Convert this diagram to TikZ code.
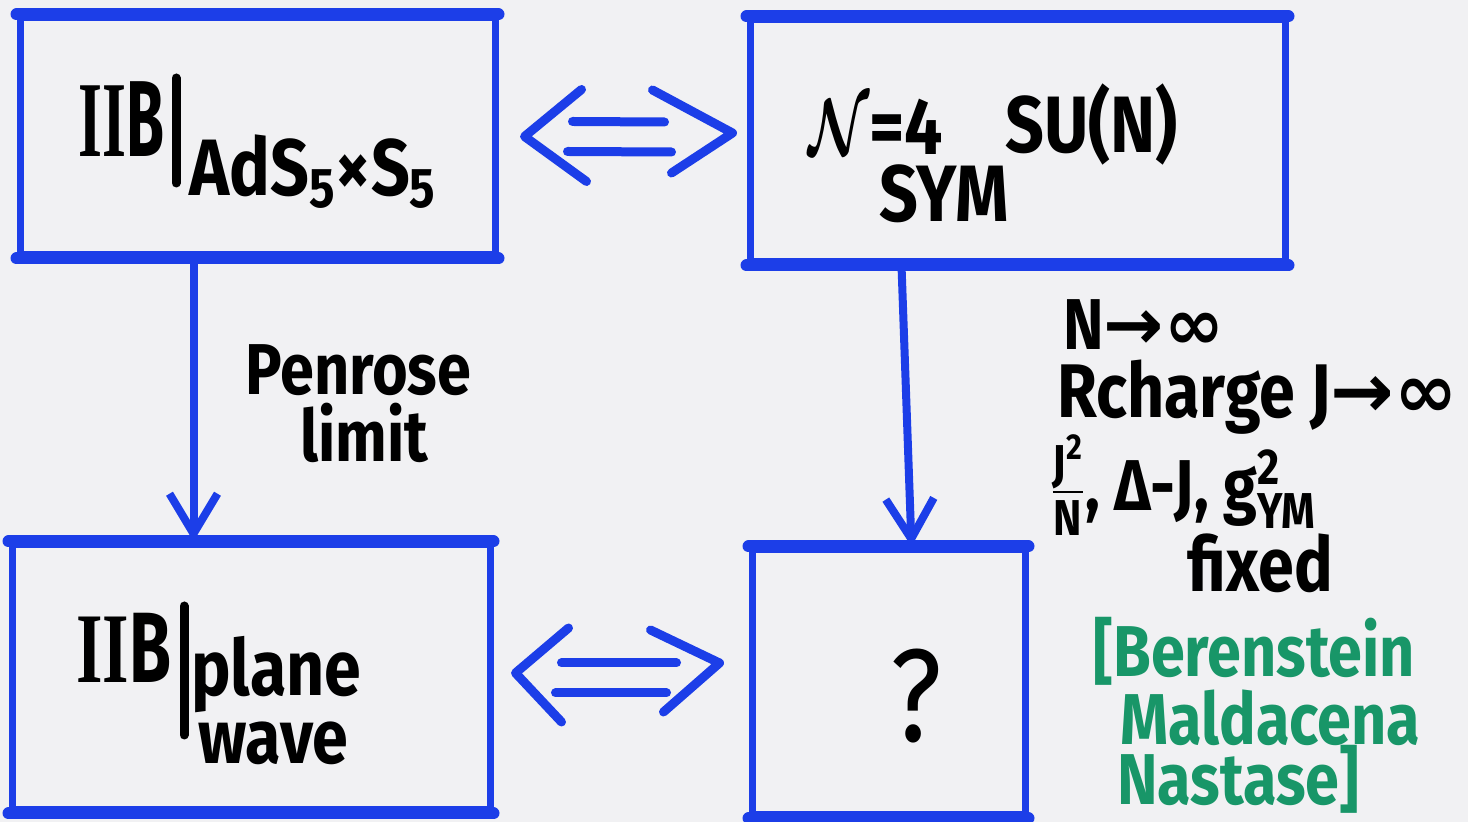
\RequirePackage{fix-cm}
\documentclass[tikz,border=0pt]{standalone}
\usepackage{amsmath}
\usepackage{fontspec}
\setmainfont{Fira Sans}[FakeStretch=0.85]
\newfontfamily\serifII{Liberation Serif}[FakeStretch=0.85]
\newfontfamily\symf{DejaVu Sans}
\usetikzlibrary{arrows.meta}
\definecolor{mkblue}{RGB}{28,62,232}
\definecolor{mkgreen}{RGB}{24,150,104}
\definecolor{paper}{RGB}{241,241,243}
\newcommand\fsz[1]{\fontsize{#1}{#1}\selectfont}
\tikzset{
  box/.style={draw=mkblue, line width=3.5pt, rectangle, inner sep=0pt},
  boxedge/.style={mkblue, line width=6pt, line cap=round},
  conn/.style={mkblue, line width=4.5pt, line cap=round, line join=round},
  vconn/.style={mkblue, line width=4pt, line cap=round, line join=round,
    -{Straight Barb[length=20pt, width=24pt, line width=4pt]}},
  hw/.style={font=\bfseries, text=black, inner sep=0pt},
  gw/.style={font=\bfseries, text=mkgreen, inner sep=0pt, text depth=0pt},
}
\begin{document}
\begin{tikzpicture}[x=0.5pt,y=-0.5pt]
\fill[paper] (0,0) rectangle (1468,822);
\useasboundingbox (0,0) rectangle (1468,822);

% boxes
\node[box, minimum width=237.5pt, minimum height=118.5pt] (A) at (257.5,136.5) {};
\node[box, minimum width=267.5pt, minimum height=121pt] (B) at (1017.5,141) {};
\node[box, minimum width=239pt, minimum height=132.5pt] (C) at (251,677.5) {};
\node[box, minimum width=136.5pt, minimum height=132.5pt] (D) at (888.5,682.5) {};
\foreach \b in {A,B,C,D}{
  \draw[boxedge] (\b.north west) -- (\b.north east);
  \draw[boxedge] (\b.south west) -- (\b.south east);
}

% box A text
\node[hw, anchor=base west, font=\bfseries\fsz{54}] (Aiib) at (78,157) {\scalebox{0.67}[1]{{\serifII II}B}};
\draw[black, line width=4.5pt, line cap=round] (176,78) -- (176,183);
\node[hw, anchor=base west, font=\bfseries\fsz{40}] (Asub) at (189,196) {AdS\textsubscript{5}×S\textsubscript{5}};

% box B text
\node[hw, anchor=base west, font=\bfseries\fsz{40}, text depth=0pt] (Bn) at (808,155) {\scalebox{0.7}[1]{\(\boldsymbol{\mathcal{N}}\)}=4};
\node[hw, anchor=base west, font=\bfseries\fsz{40}] (Bsu) at (1005,153) {SU(N)};
\node[hw, anchor=base west, font=\bfseries\fsz{40}, text height=27pt] (Bsym) at (879,222) {SYM};

% box C text
\node[hw, anchor=base west, font=\bfseries\fsz{50}] (Ciib) at (76,683) {\scalebox{0.8}[1]{{\serifII II}B}};
\draw[black, line width=4.5pt, line cap=round] (184,606) -- (184,735);
\node[hw, anchor=base west, font=\bfseries\fsz{39}] (Cplane) at (191,696) {plane};
\node[hw, anchor=base west, font=\bfseries\fsz{38}, text height=20pt] (Cwave) at (198,764) {wave};

% box D text
\node[hw, font=\fsz{66}] (Dq) at (916,696) {?};

% vertical arrows
\draw[vconn] ([xshift=88.5pt]A.south west) -- ([xshift=92.5pt]C.north west);
\node[hw, anchor=base west, font=\bfseries\fsz{36}] (pen) at (245,395) {Penrose};
\node[hw, anchor=base west, font=\bfseries\fsz{36}] (lim) at (300,462) {limit};
\draw[vconn] ([xshift=77.5pt]B.south west) -- ([xshift=81.5pt]D.north west);

% double arrow top (A <-> B)
\coordinate (tl) at ([xshift=13pt]A.east);
\coordinate (tr) at ([shift={(-7pt,4pt)}]B.west);
\draw[conn] ([shift={(28.5pt,23.5pt)}]tl) -- (tl) -- ([shift={(31pt,-22.5pt)}]tl);
\draw[conn] ([shift={(-40pt,21.5pt)}]tr) -- (tr) -- ([shift={(-30.5pt,-20pt)}]tr);
\draw[conn] ([shift={(24pt,7.5pt)}]tl) -- ([shift={(-34pt,5.5pt)}]tr);
\draw[conn] ([shift={(21.5pt,-7.5pt)}]tl) -- ([shift={(-30.5pt,-9.5pt)}]tr);

% double arrow bottom (C <-> D)
\coordinate (bl) at ([shift={(11pt,2.25pt)}]C.east);
\coordinate (br) at ([shift={(-14.5pt,9.75pt)}]D.west);
\draw[conn] ([shift={(26.5pt,22.5pt)}]bl) -- (bl) -- ([shift={(23pt,-24.5pt)}]bl);
\draw[conn] ([shift={(-34.5pt,16.5pt)}]br) -- (br) -- ([shift={(-28pt,-24.5pt)}]br);
\draw[conn] ([shift={(23pt,5pt)}]bl) -- ([shift={(-21.5pt,0pt)}]br);
\draw[conn] ([shift={(20pt,-10pt)}]bl) -- ([shift={(-26.5pt,-15pt)}]br);

% limit conditions
\node[hw, anchor=base west, font=\bfseries\fsz{36}] (c1) at (1063,350) {N{\symf\bfseries→∞}};
\node[hw, anchor=base west, font=\bfseries\fsz{38}] (c2) at (1057,418) {Rcharge J{\symf\bfseries→∞}};
\node[hw, anchor=west, font=\bfseries\fsz{36}] (c3) at (1050,485) {\(\frac{\text{J}^{\text{2}}}{\text{N}}\), Δ-J, g\(^{\text{2}}_{\text{YM}}\)};
\node[hw, anchor=base west, font=\bfseries\fsz{38}, text height=21pt] (c4) at (1187,592) {fixed};

% reference
\node[gw, anchor=base west, font=\bfseries\fsz{36}] (r1) at (1093,677) {[Berenstein};
\node[gw, anchor=base west, font=\bfseries\fsz{36}] (r2) at (1120,745) {Maldacena};
\node[gw, anchor=base west, font=\bfseries\fsz{36}, text height=20pt] (r3) at (1117,805) {Nastase]};
\end{tikzpicture}
\end{document}
